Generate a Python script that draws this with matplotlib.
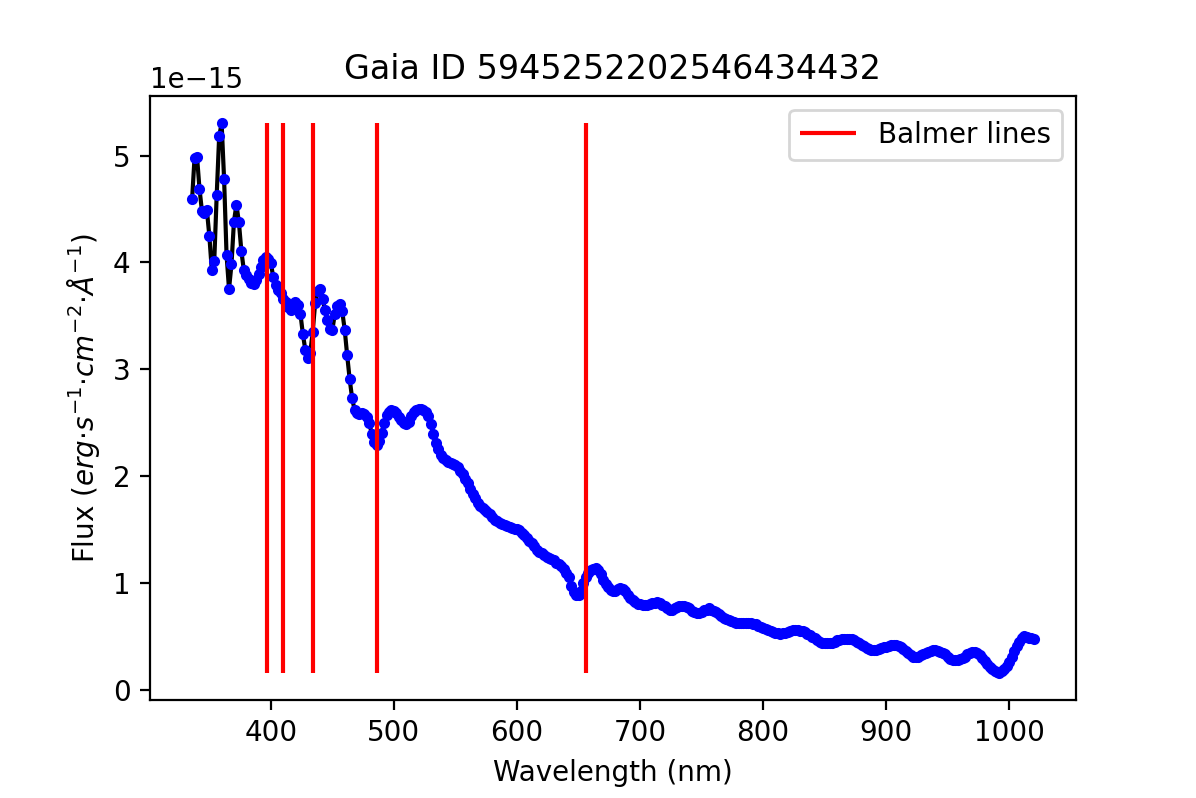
import numpy as np
import matplotlib
matplotlib.use("Agg")
import matplotlib.pyplot as plt

title = "Gaia ID 5945252202546434432"
wavelength = np.arange(336, 1021, 2)  # nm
flux_scale = 1e-15
flux_values = [
    4.59, 4.98, 4.99, 4.69, 4.48, 4.46, 4.49, 4.25, 3.93, 4.01,
    4.63, 5.18, 5.30, 4.78, 4.07, 3.75, 3.98, 4.38, 4.54, 4.38,
    4.11, 3.93, 3.88, 3.84, 3.81, 3.80, 3.83, 3.89, 3.96, 4.02,
    4.05, 4.03, 3.99, 3.86, 3.79, 3.74, 3.71, 3.66, 3.63, 3.58,
    3.55, 3.59, 3.63, 3.60, 3.52, 3.33, 3.18, 3.10, 3.15, 3.35,
    3.62, 3.73, 3.75, 3.66, 3.55, 3.46, 3.38, 3.37, 3.52, 3.59,
    3.61, 3.54, 3.37, 3.13, 2.91, 2.73, 2.62, 2.59, 2.58, 2.59,
    2.58, 2.55, 2.50, 2.39, 2.32, 2.29, 2.33, 2.40, 2.50, 2.57,
    2.60, 2.62, 2.61, 2.59, 2.55, 2.52, 2.50, 2.49, 2.51, 2.56,
    2.60, 2.62, 2.63, 2.63, 2.62, 2.60, 2.56, 2.49, 2.39, 2.31,
    2.25, 2.20, 2.17, 2.15, 2.13, 2.12, 2.11, 2.10, 2.08, 2.05,
    2.02, 1.97, 1.93, 1.88, 1.83, 1.79, 1.75, 1.72, 1.70, 1.68,
    1.66, 1.64, 1.62, 1.59, 1.58, 1.56, 1.55, 1.54, 1.53, 1.52,
    1.51, 1.50, 1.50, 1.49, 1.47, 1.45, 1.42, 1.39, 1.37, 1.34,
    1.31, 1.29, 1.28, 1.26, 1.24, 1.23, 1.22, 1.21, 1.19, 1.18,
    1.16, 1.13, 1.09, 1.05, 0.97, 0.91, 0.89, 0.89, 0.92, 1.00,
    1.05, 1.09, 1.12, 1.13, 1.14, 1.12, 1.08, 1.03, 0.99, 0.96,
    0.93, 0.92, 0.92, 0.94, 0.95, 0.94, 0.92, 0.89, 0.86, 0.84,
    0.82, 0.80, 0.80, 0.79, 0.79, 0.79, 0.80, 0.81, 0.81, 0.82,
    0.81, 0.79, 0.78, 0.76, 0.75, 0.75, 0.76, 0.77, 0.78, 0.78,
    0.78, 0.77, 0.76, 0.74, 0.73, 0.72, 0.72, 0.73, 0.75, 0.75,
    0.76, 0.75, 0.74, 0.73, 0.71, 0.69, 0.67, 0.66, 0.65, 0.64,
    0.63, 0.62, 0.62, 0.62, 0.62, 0.62, 0.62, 0.62, 0.61, 0.61,
    0.60, 0.59, 0.58, 0.57, 0.56, 0.55, 0.54, 0.53, 0.53, 0.52,
    0.53, 0.53, 0.54, 0.55, 0.56, 0.56, 0.56, 0.55, 0.55, 0.54,
    0.52, 0.51, 0.49, 0.48, 0.46, 0.45, 0.44, 0.44, 0.44, 0.44,
    0.44, 0.45, 0.46, 0.46, 0.47, 0.47, 0.47, 0.47, 0.47, 0.46,
    0.45, 0.44, 0.42, 0.41, 0.39, 0.38, 0.37, 0.37, 0.37, 0.38,
    0.39, 0.40, 0.40, 0.41, 0.42, 0.42, 0.42, 0.41, 0.40, 0.38,
    0.36, 0.34, 0.32, 0.31, 0.31, 0.31, 0.32, 0.33, 0.34, 0.35,
    0.36, 0.37, 0.37, 0.36, 0.35, 0.34, 0.33, 0.31, 0.29, 0.28,
    0.28, 0.28, 0.29, 0.30, 0.31, 0.33, 0.34, 0.35, 0.35, 0.34,
    0.32, 0.30, 0.27, 0.24, 0.21, 0.19, 0.17, 0.165, 0.16, 0.17,
    0.19, 0.22, 0.26, 0.31, 0.36, 0.41, 0.45, 0.48, 0.50, 0.49,
    0.48, 0.48, 0.47,
]
balmer_lines = [397.0, 410.2, 434.0, 486.1, 656.3]  # nm

flux = np.array(flux_values) * flux_scale

fig = plt.figure(figsize=(5.98, 3.99), dpi=200)
fig.subplots_adjust(left=150 / 1196, right=1076 / 1196, top=1 - 96 / 798, bottom=1 - 700 / 798)
ax = fig.add_subplot(111)
ax.plot(wavelength, flux, color="black")
ax.plot(wavelength, flux, "b.")
ax.vlines(balmer_lines, flux.min(), flux.max(), color="red", label="Balmer lines")
ax.set_title(title)
ax.set_xlabel("Wavelength (nm)")
ax.set_ylabel(r"Flux ($erg{\cdot}s^{-1}{\cdot}cm^{-2}{\cdot}\AA^{-1}$)")
ax.legend(loc="upper right")
fig.savefig("out.png", dpi=200)
